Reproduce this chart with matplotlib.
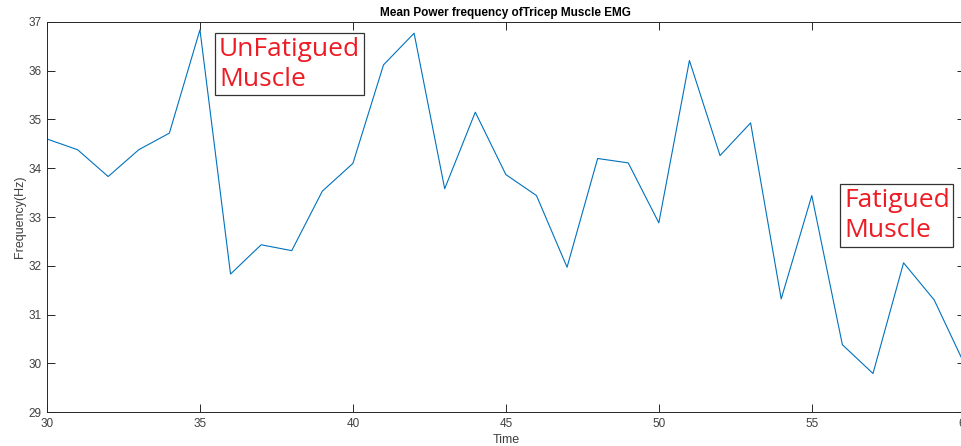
import matplotlib
matplotlib.use("Agg")
import matplotlib.pyplot as plt
import numpy as np

time = list(range(30, 61))
freq = [34.60, 34.38, 33.83, 34.38, 34.72, 36.84, 31.83, 32.43, 32.31, 33.53,
        34.10, 36.12, 36.77, 33.58, 35.15, 33.87, 33.44, 31.97, 34.20, 34.11,
        32.88, 36.21, 34.26, 34.93, 31.32, 33.44, 30.38, 29.79, 32.06, 31.30, 29.97]
xticks = [30, 35, 40, 45, 50, 55, 60]
yticks = [29, 30, 31, 32, 33, 34, 35, 36, 37]

plt.rcParams['font.family'] = ['Liberation Sans', 'DejaVu Sans']

fig = plt.figure(figsize=(9.61, 4.46), dpi=100)
ax = fig.add_axes([0.0489, 0.0762, 0.955, 0.8745])
ax.plot(time, freq, color='#0072BD', linewidth=0.8)
ax.set_xlim(30, 60)
ax.set_ylim(29, 37)
ax.set_xticks(xticks)
ax.set_yticks(yticks)
axcol = '#262626'
for s in ax.spines.values():
    s.set_color(axcol)
    s.set_linewidth(0.7)
ax.tick_params(direction='in', top=True, right=True, length=5.5, width=0.7,
               colors=axcol, labelcolor='#404040', labelsize=8.5, pad=4)
ax.set_xlabel('Time', fontsize=9, color='#404040', labelpad=3)
ax.set_ylabel('Frequency(Hz)', fontsize=9, color='#404040', labelpad=2)
ax.set_title('Mean Power frequency ofTricep Muscle EMG', fontsize=8.5,
             fontweight='bold', pad=4)

bbox = dict(boxstyle='square,pad=0.14', facecolor='white', edgecolor='#333333', linewidth=0.9)
ax.text(35.62, 36.70, 'UnFatigued\nMuscle', color='#ED1C24', fontsize=19,
        family=['Open Sans', 'DejaVu Sans'], va='top', ha='left',
        linespacing=1.27, bbox=bbox)
ax.text(56.05, 33.60, 'Fatigued\nMuscle', color='#ED1C24', fontsize=19,
        family=['Open Sans', 'DejaVu Sans'], va='top', ha='left',
        linespacing=1.27, bbox=bbox)

fig.savefig('out.png', dpi=100)
